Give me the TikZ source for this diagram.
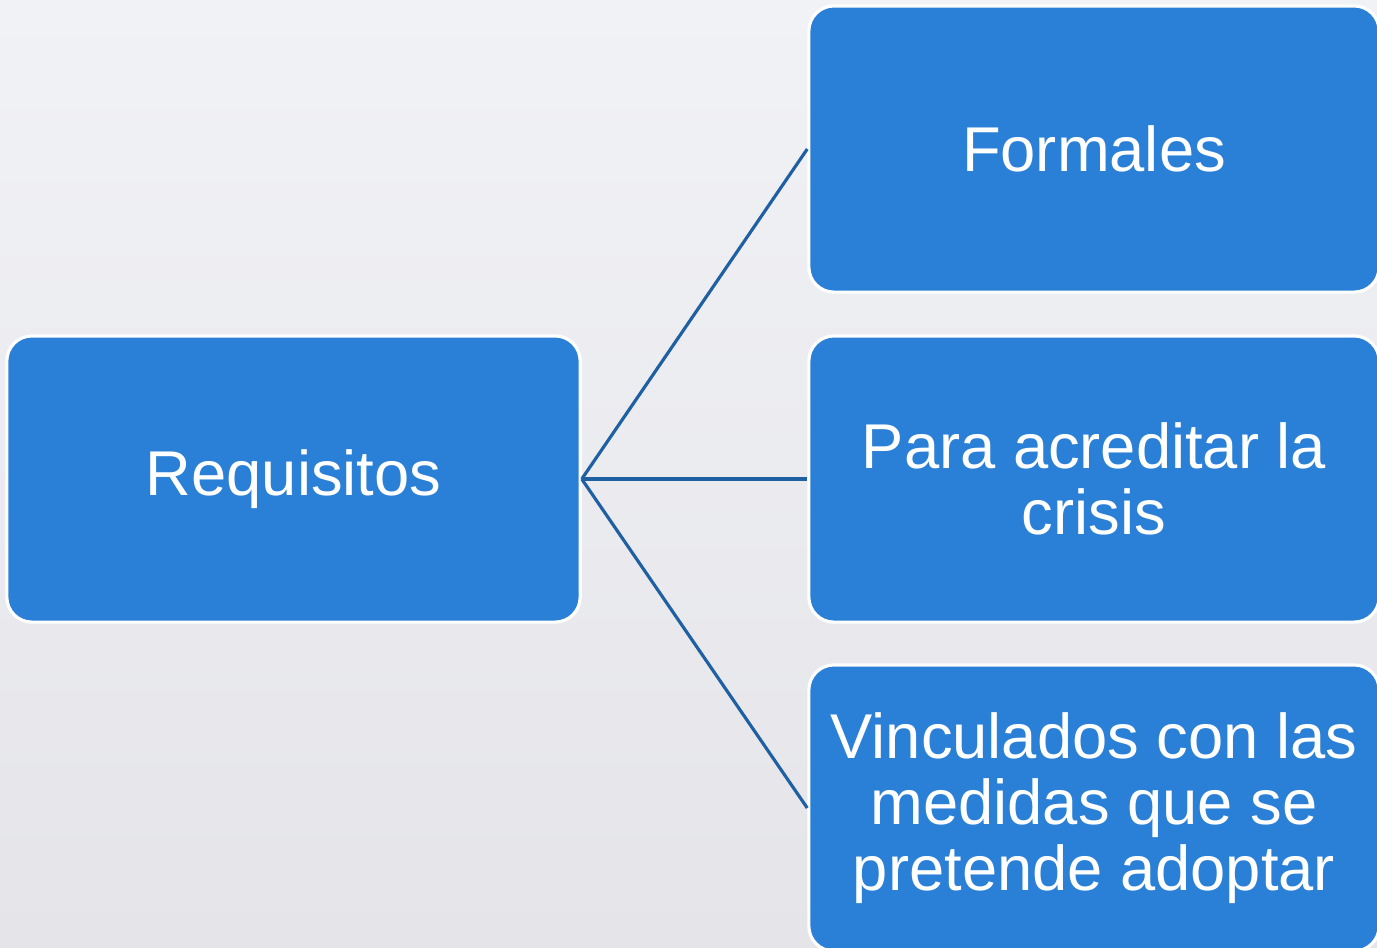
\documentclass[tikz,border=0pt]{standalone}
\usepackage{fontspec}
\setmainfont{Liberation Sans}
\definecolor{boxblue}{HTML}{2A7FD6}
\definecolor{linkblue}{HTML}{1F60A3}
\definecolor{bgtop}{HTML}{F1F2F5}
\definecolor{bgbot}{HTML}{E5E5E9}
\tikzset{
  box/.style={draw=white, line width=0.9pt, fill=boxblue, rounded corners=0.25cm,
    text=white, align=center, inner sep=0pt,
    font=\fontsize{18}{18.8}\selectfont},
  link/.style={draw=linkblue, line width=0.9pt}
}
\begin{document}
\begin{tikzpicture}[x=0.01cm,y=-0.01cm]
\useasboundingbox (0,0) rectangle (1377,947);
\shade[top color=bgtop, bottom color=bgbot] (0,0) rectangle (1377,947);
\clip (0,0) rectangle (1377,947);
\node[box, minimum width=5.73cm, minimum height=2.86cm] (req) at (293.5,479) {Requisitos};
\node[box, minimum width=5.70cm, minimum height=2.86cm] (for) at (1094,149) {Formales};
\node[box, minimum width=5.70cm, minimum height=2.86cm] (acr) at (1094,479) {Para acreditar la\\crisis};
\node[box, minimum width=5.70cm, minimum height=2.86cm] (vin) at (1094,808) {Vinculados con las\\medidas que se\\pretende adoptar};
\draw[link] (req.east) -- (for.west);
\draw[link] (req.east) -- (acr.west);
\draw[link] (req.east) -- (vin.west);
\end{tikzpicture}
\end{document}
